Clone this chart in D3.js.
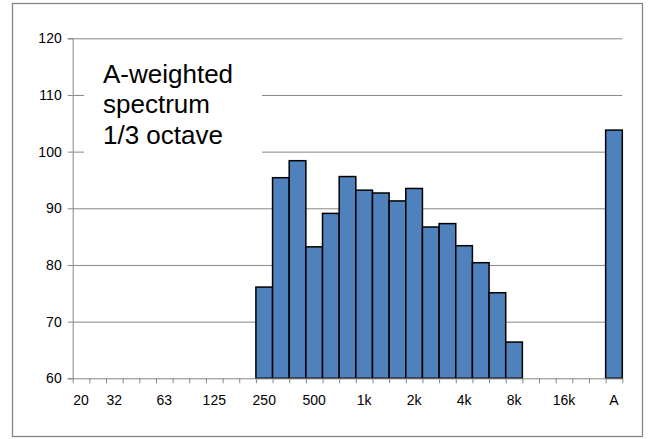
<!DOCTYPE html>
<html lang='en'>
<head>
	<meta charset='UTF-8'/>
	<title>A-weighted spectrum</title>
	<script src='https://cdnjs.cloudflare.com/ajax/libs/d3/7.8.5/d3.min.js'></script>
	<style>
		body {margin: 0; background: #fff;}
		svg {display: block;}
		svg text {font-family: 'Liberation Sans', Arial, sans-serif;}
		.axis path, .axis line {stroke: #868686;}
		.grid line {stroke: #868686;}
		.grid path {display: none;}
	</style>
</head>
<body>
	<div class='graph'></div>
	<script>
		// 1/3 octave bands, then an empty slot and the overall A value
		const bands = ['20', '25', '31.5', '40', '50', '63', '80', '100', '125', '160', '200',
			'250', '315', '400', '500', '630', '800', '1k', '1.25k', '1.6k', '2k', '2.5k',
			'3.15k', '4k', '5k', '6.3k', '8k', '10k', '12.5k', '16k', '20k', '', 'A'];
		const levels = [null, null, null, null, null, null, null, null, null, null, null,
			76.1, 95.4, 98.4, 83.2, 89.1, 95.6, 93.2, 92.7, 91.3, 93.5, 86.7,
			87.3, 83.4, 80.4, 75.1, 66.4, null, null, null, null, null, 103.8];
		// labels shown under the axis
		const tickLabels = {'20': '20', '31.5': '32', '63': '63', '125': '125', '250': '250',
			'500': '500', '1k': '1k', '2k': '2k', '4k': '4k', '8k': '8k', '16k': '16k', 'A': 'A'};
		const yTicks = [60, 70, 80, 90, 100, 110, 120];
		const titleLines = ['A-weighted', 'spectrum', '1/3 octave'];

		const width = 651, height = 439;
		const margin = {top: 38.3, right: 28.7, bottom: 60, left: 72.7};

		const svg = d3.select('.graph')
			.append('svg')
			.attr('width', width)
			.attr('height', height);

		// outer frame
		svg.append('rect')
			.attr('x', 12.5).attr('y', 3.5)
			.attr('width', 630).attr('height', 433)
			.attr('fill', '#fff')
			.attr('stroke', '#868686')
			.attr('stroke-width', 1.3);

		const x = d3.scaleBand()
			.domain(d3.range(bands.length))
			.range([margin.left, width - margin.right])
			.padding(0);
		const xEdge = d3.scaleLinear()
			.domain([0, bands.length])
			.range([margin.left, width - margin.right]);
		const y = d3.scaleLinear()
			.domain([60, 120])
			.range([height - margin.bottom - 0.7, margin.top]);

		// gridlines
		svg.append('g')
			.attr('class', 'grid')
			.attr('transform', 'translate(' + margin.left + ',0)')
			.call(d3.axisLeft(y).tickValues(yTicks.slice(1))
				.tickSize(-(width - margin.right - margin.left)).tickFormat(''));

		// white label box hides part of the gridlines
		svg.append('rect')
			.attr('x', 84).attr('y', 52)
			.attr('width', 178).attr('height', 106)
			.attr('fill', '#fff');
		svg.append('text')
			.attr('x', 103)
			.attr('y', 82.5)
			.style('font-size', '26px')
			.selectAll('tspan')
			.data(titleLines)
			.join('tspan')
			.attr('x', 103)
			.attr('dy', (d, i) => i ? 30.8 : 0)
			.text(d => d);

		// bars
		svg.append('g')
			.selectAll('rect')
			.data(levels.map((v, i) => ({v, i})).filter(d => d.v !== null))
			.join('rect')
			.attr('x', d => x(d.i))
			.attr('width', x.bandwidth())
			.attr('y', d => y(d.v))
			.attr('height', d => y(60) - y(d.v))
			.attr('fill', '#4F81BD')
			.attr('stroke', '#000')
			.attr('stroke-width', 1.5);

		// y axis
		svg.append('g')
			.attr('class', 'axis')
			.attr('transform', 'translate(' + margin.left + ',0)')
			.call(d3.axisLeft(y).tickValues(yTicks).tickSize(5).tickPadding(6))
			.call(g => g.attr('font-family', null).attr('font-size', null))
			.call(g => g.selectAll('text').style('font-size', '14px').attr('fill', '#000'));

		// x axis: tick marks at band edges, labels at band centres
		svg.append('g')
			.attr('class', 'axis')
			.attr('transform', 'translate(0,' + y(60) + ')')
			.call(d3.axisBottom(xEdge).tickValues(d3.range(bands.length + 1))
				.tickSize(5).tickSizeOuter(0).tickFormat(''));
		svg.append('g')
			.attr('transform', 'translate(0,' + y(60) + ')')
			.call(d3.axisBottom(x).tickSize(0).tickPadding(17)
				.tickFormat(i => tickLabels[bands[i]] || ''))
			.call(g => g.attr('font-family', null).attr('font-size', null))
			.call(g => g.select('.domain').remove())
			.call(g => g.selectAll('text').style('font-size', '14px').attr('fill', '#000'));
	</script>
</body>
</html>
